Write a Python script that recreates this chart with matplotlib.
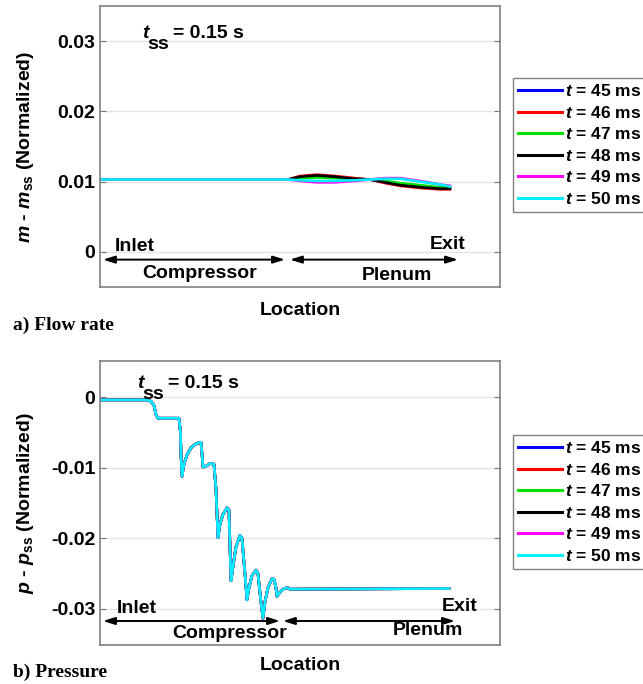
import numpy as np
import matplotlib.pyplot as plt

plt.rcParams['font.family'] = ['Liberation Sans', 'DejaVu Sans']
plt.rcParams['font.weight'] = 'bold'
plt.rcParams['mathtext.fontset'] = 'custom'
plt.rcParams['mathtext.rm'] = 'Liberation Sans:bold'
plt.rcParams['mathtext.bf'] = 'Liberation Sans:bold'
plt.rcParams['mathtext.it'] = 'Liberation Sans:bold:italic'
plt.rcParams['mathtext.bfit'] = 'Liberation Sans:bold:italic'

# time snapshots and line colours
times = [45, 46, 47, 48, 49, 50]
colors = ['#0000ff', '#ff0000', '#00e000', '#000000', '#ff00ff', '#00f0ff']

# flow rate: location (0 = inlet) and normalized m - m_ss for each snapshot
loc_m = [0.0, 0.47, 0.50, 0.5425, 0.5875, 0.6375, 0.675, 0.7125, 0.75, 0.80, 0.85, 0.875]
m_45 = [0.0103, 0.0103, 0.0106, 0.0107, 0.0106, 0.0104, 0.0103, 0.0100, 0.0097, 0.0094, 0.0091, 0.0091]
m_46 = [0.0103, 0.0103, 0.0108, 0.0110, 0.0108, 0.0105, 0.0103, 0.0098, 0.0094, 0.0091, 0.0089, 0.0089]
m_47 = [0.0103, 0.0103, 0.0105, 0.0106, 0.0105, 0.0103, 0.0103, 0.0101, 0.0098, 0.0095, 0.0092, 0.0092]
m_48 = [0.0103, 0.0103, 0.0107, 0.0109, 0.0107, 0.0104, 0.0103, 0.0099, 0.0095, 0.0092, 0.0090, 0.0090]
m_49 = [0.0103, 0.0103, 0.0101, 0.0099, 0.0099, 0.0101, 0.0103, 0.0105, 0.0105, 0.0101, 0.0096, 0.0094]
m_50 = [0.0103, 0.0103, 0.0102, 0.0101, 0.0101, 0.0102, 0.0103, 0.0104, 0.0104, 0.0100, 0.0096, 0.0093]
flow = [m_45, m_46, m_47, m_48, m_49, m_50]

# pressure: same profile for all snapshots
loc_p = [0.0, 0.1175, 0.1275, 0.135, 0.14, 0.145, 0.1575, 0.1975, 0.2013, 0.2025, 0.205,
         0.21, 0.2175, 0.2275, 0.24, 0.2525, 0.255, 0.2575, 0.265, 0.275, 0.285, 0.29,
         0.295, 0.30, 0.3075, 0.3175, 0.3225, 0.325, 0.3275, 0.3325, 0.34, 0.35, 0.355,
         0.3625, 0.3675, 0.3725, 0.38, 0.39, 0.395, 0.4025, 0.4075, 0.4125, 0.42, 0.43,
         0.435, 0.44, 0.4425, 0.45, 0.46, 0.47, 0.475, 0.8725]
p_val = [-0.0004, -0.0004, -0.0006, -0.0012, -0.0025, -0.0030, -0.0030, -0.0030, -0.0050,
         -0.0080, -0.0112, -0.0095, -0.0082, -0.0072, -0.0066, -0.0064, -0.0080, -0.0099,
         -0.0098, -0.0094, -0.0095, -0.0130, -0.0199, -0.0180, -0.0166, -0.0157, -0.0160,
         -0.0210, -0.0260, -0.0240, -0.0212, -0.0196, -0.0200, -0.0250, -0.0287, -0.0270,
         -0.0253, -0.0245, -0.0250, -0.0290, -0.0313, -0.0290, -0.0270, -0.0257, -0.0258,
         -0.0270, -0.0282, -0.0276, -0.0271, -0.0270, -0.0272, -0.0271]
pressure = [p_val] * 6

m_ticks = [0, 0.01, 0.02, 0.03]
m_ticklabels = ['0', '0.01', '0.02', '0.03']
p_ticks = [-0.03, -0.02, -0.01, 0]
p_ticklabels = ['-0.03', '-0.02', '-0.01', '0']

fig = plt.figure(figsize=(6.43, 6.84), dpi=100)
ax1 = fig.add_axes([0.1555, 0.5804, 0.622, 0.4108])
ax2 = fig.add_axes([0.1555, 0.0570, 0.622, 0.4152])

FS = 14


def style(ax, ticks, labels, ylim):
    ax.set_xlim(0, 1)
    ax.set_ylim(*ylim)
    ax.set_xticks([])
    ax.set_yticks(ticks)
    ax.set_yticklabels(labels, fontsize=FS, fontweight='bold')
    ax.tick_params(axis='y', direction='in', length=4, right=True, color='#777777')
    ax.grid(True, axis='y', color='#e4e4e4', lw=1)
    ax.set_axisbelow(True)
    for s in ax.spines.values():
        s.set_color('#808080')
        s.set_linewidth(1.2)


def arrows(ax, y, split_l, split_r, end):
    head = dict(arrowstyle='<|-|>,head_length=0.7,head_width=0.22', color='black', lw=1.4,
                shrinkA=0, shrinkB=0)
    ax.annotate('', xy=(split_l, y), xytext=(0.0075, y), arrowprops=head)
    ax.annotate('', xy=(end, y), xytext=(split_r, y), arrowprops=head)


def t_ss(ax, x, y):
    # t with a large, low "ss" subscript
    kw = dict(xycoords='axes fraction', textcoords='offset points', va='baseline',
              fontsize=FS)
    ax.annotate(r'$\mathbfit{t}$', (x, y), xytext=(0, 0), **kw)
    ax.annotate('ss', (x, y), xytext=(3.6, -8), **kw)
    ax.annotate('= 0.15 s', (x, y), xytext=(22, 0), **kw)


# a) flow rate
for t, c, m in zip(times, colors, flow):
    ax1.plot(loc_m, m, color=c, lw=1.9, label=rf'$\mathbfit{{t}}$ = {t} ms')
style(ax1, m_ticks, m_ticklabels, (-0.005, 0.035))
arrows(ax1, -0.0011, 0.4625, 0.475, 0.895)
ax1.text(0.0875, 0.0007, 'Inlet', ha='center', va='center', fontsize=FS)
ax1.text(0.25, -0.0031, 'Compressor', ha='center', va='center', fontsize=FS)
ax1.text(0.7425, -0.0033, 'Plenum', ha='center', va='center', fontsize=FS)
ax1.text(0.87, 0.0010, 'Exit', ha='center', va='center', fontsize=FS)
t_ss(ax1, 0.105, 0.885)
ax1.set_ylabel(r'$\mathbfit{m}$ - $\mathbfit{m}_{\mathbf{ss}}$ (Normalized)', fontsize=FS,
               fontweight='bold')
ax1.yaxis.set_label_coords(-0.16, 0.5)
ax1.set_xlabel('Location', fontsize=FS, fontweight='bold')
ax1.xaxis.set_label_coords(0.5, -0.053)

# b) pressure
for t, c, p in zip(times, colors, pressure):
    ax2.plot(loc_p, p, color=c, lw=1.9, label=rf'$\mathbfit{{t}}$ = {t} ms')
style(ax2, p_ticks, p_ticklabels, (-0.0351, 0.0051))
arrows(ax2, -0.0317, 0.45, 0.4575, 0.8875)
ax2.text(0.0925, -0.0300, 'Inlet', ha='center', va='center', fontsize=FS)
ax2.text(0.325, -0.0334, 'Compressor', ha='center', va='center', fontsize=FS)
ax2.text(0.82, -0.0331, 'Plenum', ha='center', va='center', fontsize=FS)
ax2.text(0.90, -0.0297, 'Exit', ha='center', va='center', fontsize=FS)
t_ss(ax2, 0.0925, 0.905)
ax2.set_ylabel(r'$\mathbfit{p}$ - $\mathbfit{p}_{\mathbf{ss}}$ (Normalized)', fontsize=FS,
               fontweight='bold')
ax2.yaxis.set_label_coords(-0.16, 0.5)
ax2.set_xlabel('Location', fontsize=FS, fontweight='bold')
ax2.xaxis.set_label_coords(0.5, -0.042)

for ax, top in ((ax1, 78), (ax2, 435)):
    leg = ax.legend(loc='upper left', bbox_to_anchor=(513 / 643, 1 - top / 684),
                    bbox_transform=fig.transFigure, borderaxespad=0, fontsize=12.5,
                    handlelength=2.5, handletextpad=0.2, labelspacing=0.32,
                    borderpad=0.3, fancybox=False, framealpha=1)
    leg.get_frame().set_edgecolor('#808080')
    leg.get_frame().set_linewidth(1.0)
    for line in leg.get_lines():
        line.set_linewidth(2.2)

fig.text(13 / 643, 1 - 330 / 684, 'a) Flow rate', family='Liberation Serif',
         fontweight='bold', fontsize=14, va='baseline')
fig.text(13 / 643, 1 - 664 / 684, 'b) Pressure', family='Liberation Serif',
         fontweight='bold', fontsize=14, va='top')

fig.savefig('out.png', dpi=100)
